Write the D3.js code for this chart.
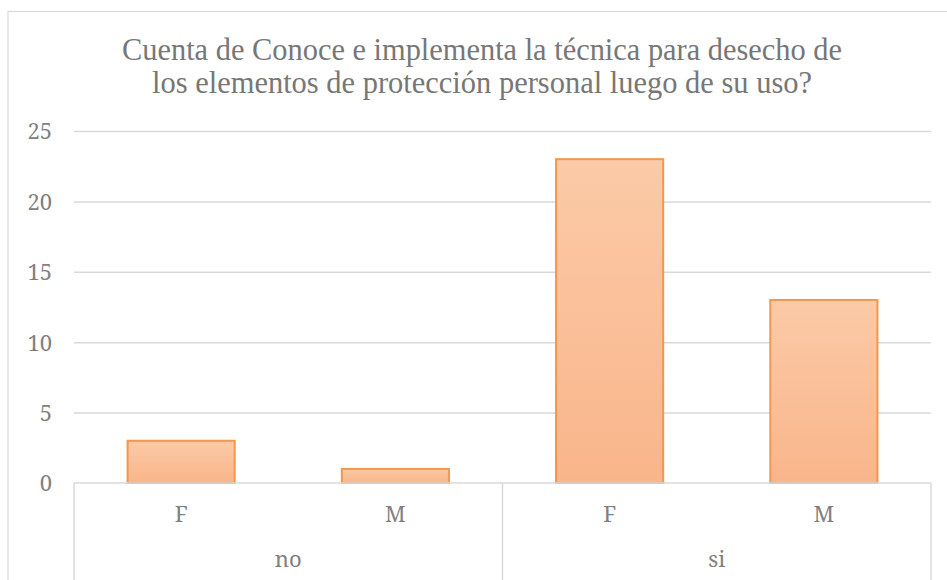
<!DOCTYPE html>
<head>
<meta charset="utf-8">
<style>
body {
    margin: 0;
    background: #fff;
}
.grid line {
    stroke: #D9D9D9;
    stroke-width: 1.5;
}
.grid .domain {
    display: none;
}
.cat-line {
    stroke: #D9D9D9;
    stroke-width: 1.5;
}
</style>
</head>
<body>
<div class="chart"></div>
<script src="https://d3js.org/d3.v7.min.js"></script>
<script>
const titleLines = [
    "Cuenta de Conoce e implementa la técnica para desecho de",
    "los elementos de protección personal luego de su uso?"
];
const groups = ["no", "si"];
const subCategories = ["F", "M"];
const counts = [3, 1, 23, 13]; // no-F, no-M, si-F, si-M
const yTicks = [0, 5, 10, 15, 20, 25];

const labelFont = "'Noto Serif', 'DejaVu Serif'";
const titleFont = "'Liberation Serif', 'Times New Roman'";
const labelColor = "#808080";

const width = 947, height = 580;
const margin = { top: 131, right: 16, bottom: 97, left: 74 };
const innerW = width - margin.left - margin.right;
const innerH = height - margin.top - margin.bottom;

// flatten group/sub into one row per bar
const rows = [];
groups.forEach(function(g, gi) {
    subCategories.forEach(function(s, si) {
        rows.push({ group: g, sub: s, key: g + "|" + s, value: counts[gi * subCategories.length + si] });
    });
});

const svg = d3.select(".chart")
    .append("svg")
        .attr("width", width)
        .attr("height", height);

// chart frame (cut off on right and bottom like the source)
svg.append("rect")
    .attr("x", 8)
    .attr("y", 11.5)
    .attr("width", 960)
    .attr("height", 600)
    .attr("fill", "none")
    .attr("stroke", "#D9D9D9")
    .attr("stroke-width", 1.2);

// title
const titleY = [60, 93];
const titleW = [720, 660];
titleLines.forEach(function(t, i) {
    svg.append("text")
        .attr("x", 482)
        .attr("y", titleY[i])
        .attr("text-anchor", "middle")
        .attr("textLength", titleW[i])
        .attr("lengthAdjust", "spacingAndGlyphs")
        .style("font-family", titleFont)
        .style("font-size", "32px")
        .style("fill", "#777777")
        .text(t);
});

const g = svg.append("g")
    .attr("transform", "translate(" + margin.left + "," + margin.top + ")");

const xScale = d3.scaleBand()
    .domain(rows.map(function(d) { return d.key; }))
    .range([0, innerW])
    .paddingInner(0.5)
    .paddingOuter(0.25);

const yScale = d3.scaleLinear()
    .domain([0, 25])
    .range([innerH, 0]);

// gridlines + y labels
const yAxis = d3.axisLeft(yScale)
    .tickValues(yTicks)
    .tickSize(-innerW)
    .tickPadding(22);

const yG = g.append("g")
    .attr("class", "grid")
    .call(yAxis);
yG.selectAll("text")
    .style("font-family", labelFont)
    .style("font-size", "22px")
    .style("fill", labelColor)
    .attr("dy", "0.36em");
yG.selectAll(".tick").filter(function(d) { return d === 0; }).select("line").remove();

// bars
const grad = svg.append("defs").append("linearGradient")
    .attr("id", "barFill")
    .attr("x1", 0).attr("y1", 0)
    .attr("x2", 0).attr("y2", 1);
grad.append("stop").attr("offset", "0%").attr("stop-color", "#FBCAA7");
grad.append("stop").attr("offset", "100%").attr("stop-color", "#F9B58A");

g.selectAll(".bar")
    .data(rows)
    .enter()
    .append("rect")
        .attr("class", "bar")
        .attr("x", function(d) { return xScale(d.key); })
        .attr("y", function(d) { return yScale(d.value); })
        .attr("width", xScale.bandwidth())
        .attr("height", function(d) { return innerH - yScale(d.value); })
        .attr("fill", "url(#barFill)")
        .attr("stroke", "#F4964C")
        .attr("stroke-width", 2);

// multi-level category axis
g.append("line")
    .attr("class", "cat-line")
    .attr("x1", 0).attr("x2", innerW)
    .attr("y1", innerH).attr("y2", innerH);

// group boundaries: plot edges + midway between last bar of one group and first of the next
const groupEdges = [0];
groups.forEach(function(gr, gi) {
    if (gi < groups.length - 1) {
        const last = xScale(gr + "|" + subCategories[subCategories.length - 1]) + xScale.bandwidth();
        const next = xScale(groups[gi + 1] + "|" + subCategories[0]);
        groupEdges.push((last + next) / 2);
    }
});
groupEdges.push(innerW);

g.selectAll(".group-edge")
    .data(groupEdges)
    .enter()
    .append("line")
        .attr("class", "cat-line")
        .attr("x1", function(d) { return d; })
        .attr("x2", function(d) { return d; })
        .attr("y1", innerH)
        .attr("y2", height);

g.selectAll(".sub-label")
    .data(rows)
    .enter()
    .append("text")
        .attr("x", function(d) { return xScale(d.key) + xScale.bandwidth() / 2; })
        .attr("y", innerH + 39)
        .attr("text-anchor", "middle")
        .style("font-family", labelFont)
        .style("font-size", "22px")
        .style("fill", labelColor)
        .text(function(d) { return d.sub; });

g.selectAll(".group-label")
    .data(groups)
    .enter()
    .append("text")
        .attr("x", function(d, i) { return (groupEdges[i] + groupEdges[i + 1]) / 2; })
        .attr("y", innerH + 84)
        .attr("text-anchor", "middle")
        .style("font-family", labelFont)
        .style("font-size", "22px")
        .style("fill", labelColor)
        .text(function(d) { return d; });
</script>
</body>
